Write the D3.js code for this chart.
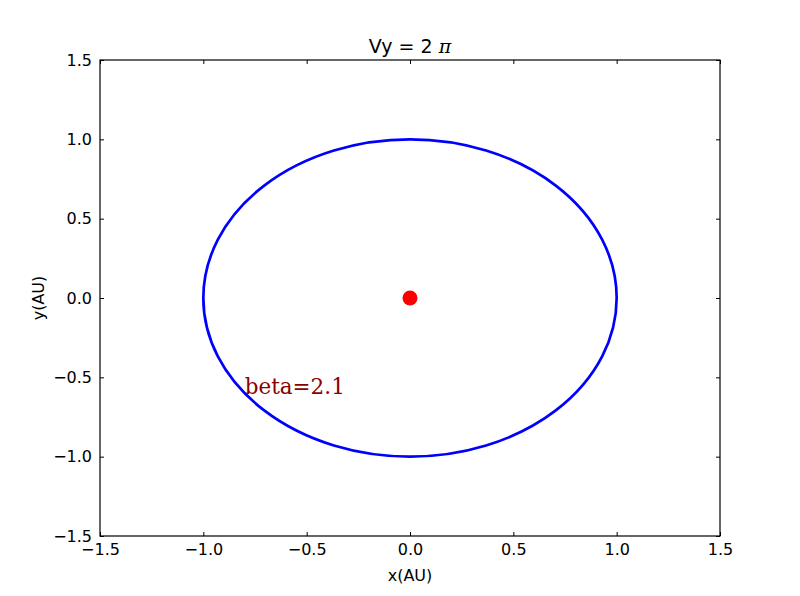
<!DOCTYPE html>
<html><head><meta charset="utf-8">
<script src="https://cdn.jsdelivr.net/npm/d3@7"></script>
<style>body{margin:0;background:#fff}svg{display:block}</style>
</head><body>
<script>
const xDomain = [-1.5, 1.5];
const yDomain = [-1.5, 1.5];
const xTicks = [-1.5, -1.0, -0.5, 0.0, 0.5, 1.0, 1.5];
const yTicks = [-1.5, -1.0, -0.5, 0.0, 0.5, 1.0, 1.5];
const orbitCenter = [0, 0];
const orbitRadius = [1.0, 1.0];
const sunPos = [0, 0];
const annotation = {x: -0.8, y: -0.6, text: "beta=2.1"};
const titleText = "Vy = 2";

const W = 800, H = 596;
const m = {left: 100, right: 720, top: 60, bottom: 536};
const svg = d3.select("body").append("svg").attr("width", W).attr("height", H);
const x = d3.scaleLinear().domain(xDomain).range([m.left, m.right]);
const y = d3.scaleLinear().domain(yDomain).range([m.bottom, m.top]);
const fmt = d => d3.format(".1f")(d).replace("-", "\u2212");
const font = "DejaVu Sans, sans-serif";

// orbit
svg.append("ellipse")
  .attr("cx", x(orbitCenter[0])).attr("cy", y(orbitCenter[1]))
  .attr("rx", x(orbitCenter[0] + orbitRadius[0]) - x(orbitCenter[0]))
  .attr("ry", y(orbitCenter[1]) - y(orbitCenter[1] + orbitRadius[1]))
  .attr("fill", "none").attr("stroke", "#0000ff").attr("stroke-width", 2.7);

svg.append("circle").attr("cx", x(sunPos[0])).attr("cy", y(sunPos[1]))
  .attr("r", 7.5).attr("fill", "#ff0000");

svg.append("text").attr("x", x(annotation.x)).attr("y", y(annotation.y) + 1)
  .attr("font-family", "DejaVu Serif, serif").attr("font-size", 21.5)
  .attr("fill", "#8b0000").text(annotation.text);

// axes with inward ticks
const tl = 4;
const gx = svg.append("g").attr("transform", `translate(0,${m.bottom})`)
  .call(d3.axisBottom(x).tickValues(xTicks).tickFormat(fmt).tickSizeInner(-tl).tickSizeOuter(0).tickPadding(8));
const gxt = svg.append("g").attr("transform", `translate(0,${m.top})`)
  .call(d3.axisTop(x).tickValues(xTicks).tickFormat("").tickSizeInner(-tl).tickSizeOuter(0));
const gy = svg.append("g").attr("transform", `translate(${m.left},0)`)
  .call(d3.axisLeft(y).tickValues(yTicks).tickFormat(fmt).tickSizeInner(-tl).tickSizeOuter(0).tickPadding(8));
const gyr = svg.append("g").attr("transform", `translate(${m.right},0)`)
  .call(d3.axisRight(y).tickValues(yTicks).tickFormat("").tickSizeInner(-tl).tickSizeOuter(0));
[gx, gxt, gy, gyr].forEach(g => {
  g.select(".domain").remove();
  g.selectAll("line").attr("stroke", "#000").attr("stroke-width", 1);
  g.selectAll("text").attr("font-family", font).attr("font-size", 16).attr("fill", "#000");
});

svg.append("rect").attr("x", m.left).attr("y", m.top)
  .attr("width", m.right - m.left).attr("height", m.bottom - m.top)
  .attr("fill", "none").attr("stroke", "#000").attr("stroke-width", 1.2);

svg.append("text").attr("x", (m.left + m.right) / 2).attr("y", 581)
  .attr("text-anchor", "middle").attr("font-family", font).attr("font-size", 16).text("x(AU)");
svg.append("text").attr("transform", `translate(44,${(m.top + m.bottom) / 2}) rotate(-90)`)
  .attr("text-anchor", "middle").attr("font-family", font).attr("font-size", 16).text("y(AU)");

const t = svg.append("text").attr("x", (m.left + m.right) / 2).attr("y", 53)
  .attr("text-anchor", "middle").attr("font-family", font).attr("font-size", 19);
t.append("tspan").text(titleText + " ");
t.append("tspan").attr("font-family", "DejaVu Serif, serif").attr("font-style", "italic").text("\u03c0");
</script>
</body></html>
